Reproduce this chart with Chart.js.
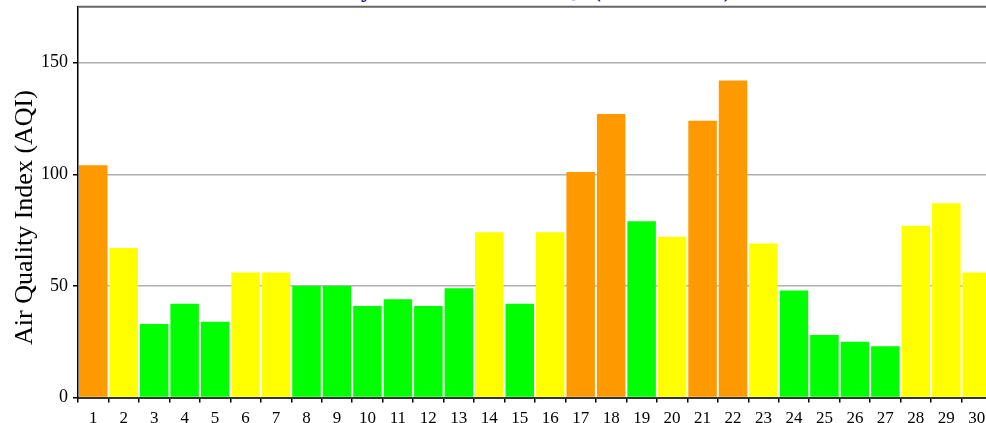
<!DOCTYPE html>
<html>
<head>
<meta charset="utf-8">
<script src="https://cdn.jsdelivr.net/npm/chart.js@4/dist/chart.umd.min.js"></script>
<style>
  html, body { margin: 0; padding: 0; background: #ffffff; overflow: hidden; width: 986px; height: 423px; }
  #wrap { position: absolute; left: 0; top: -28px; width: 1050px; height: 465px; }
</style>
</head>
<body>
<div id="wrap"><canvas id="c"></canvas></div>
<script>
// ---- data ----
const titleText = "Daily Maximum 8-hr AQI (March 2014)";
const yAxisTitle = "Air Quality Index (AQI)";
const days = ["1","2","3","4","5","6","7","8","9","10","11","12","13","14","15","16","17","18","19","20","21","22","23","24","25","26","27","28","29","30"];
const aqiValues = [104, 67, 33, 42, 34, 56, 56, 50, 50, 41, 44, 41, 49, 74, 42, 74, 101, 127, 79, 72, 124, 142, 69, 48, 28, 25, 23, 77, 87, 56];
const aqiLevels = ["USG","Moderate","Good","Good","Good","Moderate","Moderate","Good","Good","Good","Good","Good","Good","Moderate","Good","Moderate","USG","USG","Good","Moderate","USG","USG","Moderate","Good","Good","Good","Good","Moderate","Moderate","Moderate"];
const yTicks = [0, 50, 100, 150];
const yMax = 175;

// ---- styles ----
const levelColors = { "Good": "#00FF00", "Moderate": "#FFFF00", "USG": "#FF9900" };
const FONT = "'Liberation Serif', 'Times New Roman', serif";

const framePlugin = {
  id: 'frame',
  afterDraw(chart) {
    const ctx = chart.ctx, a = chart.chartArea;
    ctx.save();
    ctx.strokeStyle = '#666666';
    ctx.lineWidth = 2;
    ctx.beginPath();
    ctx.moveTo(a.left, a.top);
    ctx.lineTo(a.right, a.top);
    ctx.stroke();
    // y axis title
    ctx.translate(25, 245.5);
    ctx.rotate(-Math.PI / 2);
    ctx.fillStyle = '#000000';
    ctx.font = "26px " + FONT;
    ctx.textAlign = 'center';
    ctx.textBaseline = 'middle';
    ctx.fillText(yAxisTitle, 0, 0);
    ctx.restore();
  }
};

new Chart(document.getElementById('c'), {
  type: 'bar',
  data: {
    labels: days,
    datasets: [{
      data: aqiValues,
      backgroundColor: aqiLevels.map(l => levelColors[l]),
      borderWidth: 0,
      categoryPercentage: 1,
      barPercentage: 0.935
    }]
  },
  options: {
    responsive: true,
    maintainAspectRatio: false,
    animation: false,
    layout: { padding: { left: 0, right: 0, top: 0, bottom: 2 } },
    plugins: {
      legend: { display: false },
      tooltip: { enabled: false },
      title: {
        display: true,
        text: titleText,
        color: '#0a0a8c',
        font: { family: FONT, size: 24, weight: 'bold' },
        padding: { top: 4, bottom: 2 }
      }
    },
    scales: {
      x: {
        grid: { display: true, drawOnChartArea: false, drawTicks: true, tickLength: 5, color: '#000000', lineWidth: 1.5, offset: true },
        border: { display: true, color: '#333333', width: 2 },
        ticks: { color: '#000000', font: { family: FONT, size: 17 }, padding: 6, maxRotation: 0, autoSkip: false }
      },
      y: {
        min: 0,
        max: yMax,
        afterBuildTicks: (scale) => { scale.ticks = yTicks.map(v => ({ value: v })); },
        afterFit: (scale) => { scale.width = 78; },
        grid: { color: '#b0b0b0', lineWidth: 1.5, tickColor: '#000000', tickLength: 5, drawTicks: true },
        border: { display: true, color: '#000000', width: 1.5 },
        ticks: { color: '#000000', font: { family: FONT, size: 18 }, padding: 5 }
      },
      yRight: {
        position: 'right',
        display: true,
        afterFit: (scale) => { scale.width = 58; },
        grid: { display: false },
        border: { display: false },
        ticks: { display: false }
      }
    }
  },
  plugins: [framePlugin]
});
</script>
</body>
</html>
